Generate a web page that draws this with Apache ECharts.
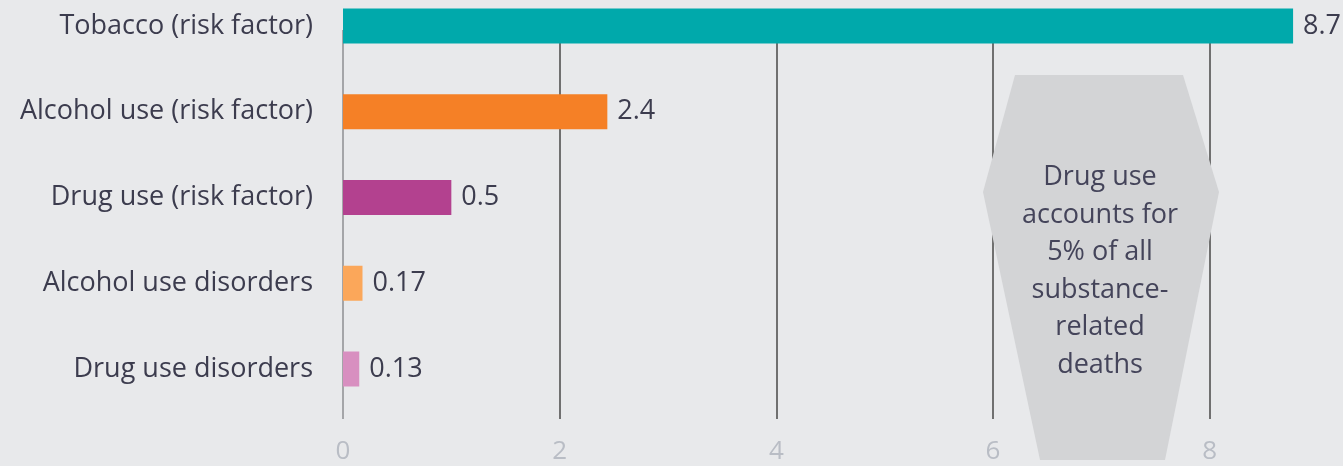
<!DOCTYPE html>
<html>
<head>
<meta charset="utf-8">
<script src="https://cdn.jsdelivr.net/npm/echarts@6/dist/echarts.min.js"></script>
<style>
  html, body { margin: 0; padding: 0; background: #e8e9eb; }
  #chart { width: 1343px; height: 466px; }
</style>
</head>
<body>
<div id="chart"></div>
<script>
  // categories, top to bottom
  const categories = ['Tobacco (risk factor)', 'Alcohol use (risk factor)', 'Drug use (risk factor)', 'Alcohol use disorders', 'Drug use disorders'];
  // bar lengths as drawn in the picture
  const barLengths = [8.77, 2.44, 1.0, 0.18, 0.15];
  // printed value labels
  const valueLabels = ['8.7', '2.4', '0.5', '0.17', '0.13'];
  const barColors = ['#00a9ab', '#f58026', '#b3418f', '#fba75a', '#d88fc0'];
  const xTicks = [0, 2, 4, 6, 8];
  const noteLines = ['Drug use', 'accounts for', '5% of all', 'substance-', 'related', 'deaths'];

  const FONT = '"Open Sans", "Noto Sans", sans-serif';
  const chart = echarts.init(document.getElementById('chart'));

  const option = {
    backgroundColor: '#e8e9eb',
    animation: false,
    grid: [
      // bars: categories sit on the grid edges (boundaryGap false)
      { left: 343, right: 25, top: 26, bottom: 97 },
      // vertical grid lines + tick labels
      { left: 343, right: 25, top: 30, bottom: 47 }
    ],
    xAxis: [
      { gridIndex: 0, type: 'value', min: 0, max: 9, show: false },
      {
        gridIndex: 1, type: 'value', min: 0, max: 9, interval: 2,
        axisLine: { show: false },
        axisTick: { show: false },
        axisLabel: {
          margin: 20,
          color: '#b9bdc5',
          fontFamily: FONT,
          fontSize: 26,
          formatter: v => (xTicks.indexOf(v) >= 0 ? String(v) : '')
        },
        splitLine: {
          show: true,
          lineStyle: { color: ['#a4a5a8', '#707070', '#707070', '#707070', '#707070', 'rgba(0,0,0,0)'], width: 2 }
        }
      }
    ],
    yAxis: [
      {
        gridIndex: 0, type: 'category', inverse: true, boundaryGap: false, data: categories,
        axisLine: { show: false },
        axisTick: { show: false },
        splitLine: { show: false },
        axisLabel: {
          margin: 30,
          color: '#3c3c4e',
          fontFamily: FONT,
          fontSize: 27
        }
      },
      { gridIndex: 1, type: 'value', min: 0, max: 1, show: false }
    ],
    series: [
      {
        type: 'bar',
        xAxisIndex: 0,
        yAxisIndex: 0,
        barWidth: 35,
        z: 3,
        data: barLengths.map((v, i) => ({ value: v, itemStyle: { color: barColors[i] } })),
        label: {
          show: true,
          position: 'right',
          distance: 10,
          color: '#3c3c4e',
          fontFamily: FONT,
          fontSize: 27,
          formatter: p => valueLabels[p.dataIndex]
        }
      },
      { type: 'line', xAxisIndex: 1, yAxisIndex: 1, data: [] }
    ],
    graphic: [
      {
        type: 'polygon',
        z: 1,
        shape: { points: [[1015, 75], [1183, 75], [1219, 192], [1165, 460], [1040, 460], [983, 192]] },
        style: { fill: '#d3d4d6' }
      },
      {
        type: 'text',
        z: 2,
        x: 1100,
        y: 159,
        style: {
          text: noteLines.join('\n'),
          align: 'center',
          verticalAlign: 'top',
          lineHeight: 37.5,
          fill: '#44445a',
          font: '27px ' + FONT
        }
      }
    ]
  };

  chart.setOption(option);
</script>
</body>
</html>
